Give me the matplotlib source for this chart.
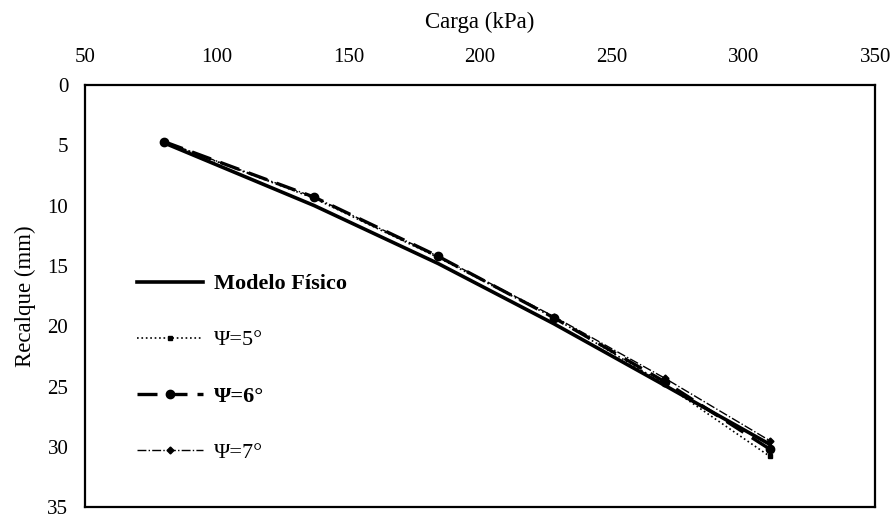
import matplotlib
matplotlib.use("Agg")
import matplotlib.pyplot as plt

plt.rcParams["font.family"] = ["Liberation Serif", "DejaVu Serif"]

# data
carga = [80, 137, 184, 228, 270, 310]
modelo_fisico = [4.8, 10.0, 14.8, 19.8, 24.9, 29.8]
psi5 = [4.7, 9.4, 14.3, 19.3, 24.8, 30.8]
psi6 = [4.7, 9.3, 14.2, 19.3, 24.6, 30.2]
psi7 = [4.7, 9.3, 14.2, 19.2, 24.3, 29.5]

fig = plt.figure(figsize=(8.9, 5.18), dpi=100)
ax = fig.add_axes([0.0955, 0.021, 0.888, 0.815])

ax.plot(carga, modelo_fisico, "-", color="black", linewidth=2.6, label="Modelo Físico")
ax.plot(carga, psi5, ":", color="black", linewidth=1.2, marker="s", markersize=3, label="Ψ=5°")
ax.plot(carga, psi6, "--", color="black", linewidth=2.4, dashes=(6, 3), marker="o", markersize=6,
        label="Ψ=6°")
ax.plot(carga, psi7, "-.", color="black", linewidth=1.0, marker="D", markersize=3.5, label="Ψ=7°")

ax.set_xlim(50, 350)
ax.set_ylim(35, 0)
ax.set_xticks(range(50, 351, 50))
ax.set_yticks(range(0, 36, 5))
ax.xaxis.tick_top()
ax.xaxis.set_label_position("top")
ax.tick_params(length=0, labelsize=15)
ax.tick_params(axis="x", pad=13)
ax.tick_params(axis="y", pad=12)
ax.set_xlabel("Carga (kPa)", fontsize=16.5, labelpad=14)
ax.set_ylabel("Recalque (mm)", fontsize=16.5, labelpad=8)
for s in ax.spines.values():
    s.set_linewidth(1.6)

leg = ax.legend(loc="upper left", bbox_to_anchor=(0.04, 0.6), frameon=False, fontsize=16,
                labelspacing=1.6, handlelength=3.0, handletextpad=0.5)
for t in leg.get_texts():
    if t.get_text() in ("Modelo Físico", "Ψ=6°"):
        t.set_fontweight("bold")

plt.savefig("out.png", dpi=100)
